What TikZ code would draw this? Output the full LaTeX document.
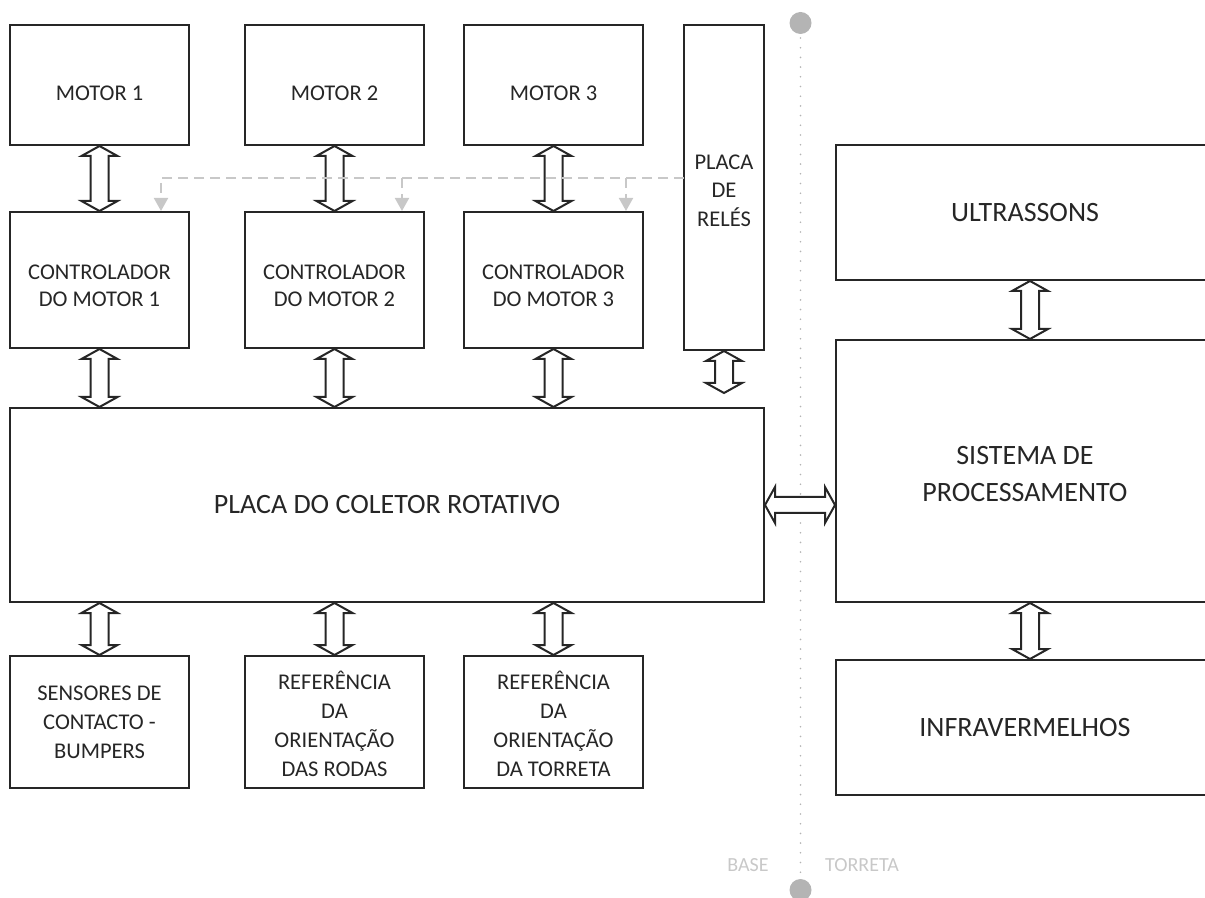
\documentclass[tikz,border=0pt]{standalone}
\usepackage{fontspec}
\setmainfont{Carlito}
\usetikzlibrary{calc,arrows.meta}
\definecolor{ink}{HTML}{262626}
\definecolor{lgray}{HTML}{C8C8C8}
\definecolor{dgray}{HTML}{B4B4B4}
\newcommand\vdarrow[2]{%
  \draw[dblarrow] (#1) -- ($(#1)+(18,10)$) -- ($(#1)+(9,10)$) -- ($(#2)+(9,-10)$) -- ($(#2)+(18,-10)$) -- (#2)
    -- ($(#2)+(-18,-10)$) -- ($(#2)+(-9,-10)$) -- ($(#1)+(-9,10)$) -- ($(#1)+(-18,10)$) -- cycle;}
\newcommand\hdarrow[2]{%
  \draw[dblarrow] (#1) -- ($(#1)+(10,-18)$) -- ($(#1)+(10,-8)$) -- ($(#2)+(-10,-8)$) -- ($(#2)+(-10,-18)$) -- (#2)
    -- ($(#2)+(-10,18)$) -- ($(#2)+(-10,8)$) -- ($(#1)+(10,8)$) -- ($(#1)+(10,18)$) -- cycle;}
\begin{document}
\begin{tikzpicture}[x=0.5pt,y=-0.5pt,
  box/.style={draw=ink, line width=1pt, inner sep=0pt, align=center, text=ink, font=\fontsize{11.25}{13.5}\selectfont},
  bigbox/.style={box, font=\fontsize{14}{18.5}\selectfont},
  lowbox/.style={box, font=\fontsize{11.25}{14.6}\selectfont},
  txt/.style={text=ink, font=\fontsize{11.25}{13.5}\selectfont, inner sep=0pt, align=center},
  bigtxt/.style={txt, font=\fontsize{14}{18.5}\selectfont},
  dblarrow/.style={draw=ink, line width=1pt, fill=white, line join=miter},
  ctrl/.style={draw=lgray, line width=1pt, dash pattern=on 5pt off 3pt, -{Triangle[width=7pt,length=6.5pt,fill=lgray]}},
  side/.style={text=lgray, font=\fontsize{10}{12}\selectfont, inner sep=0pt}]
\useasboundingbox (0,0) rectangle (1205,898);
\clip (0,0) rectangle (1205,898);
% separator
\draw[dgray, line width=0.9pt, line cap=round, dash pattern=on 0pt off 4.85pt] (800.5,38) -- (800.5,878);
\fill[dgray] (800.5,23) circle[radius=5.5pt];
\fill[dgray] (800.5,890) circle[radius=5.5pt];
\node[side] (base) at (748,865) {BASE};
\node[side] (torreta) at (862,865) {TORRETA};
% motors
\node[box, minimum width=89.5pt, minimum height=60pt, label={[txt,yshift=-4pt]center:MOTOR 1}] (m1) at (99.5,85) {};
\node[box, minimum width=89.5pt, minimum height=60pt, label={[txt,yshift=-4pt]center:MOTOR 2}] (m2) at (334.5,85) {};
\node[box, minimum width=89.5pt, minimum height=60pt, label={[txt,yshift=-4pt]center:MOTOR 3}] (m3) at (553.5,85) {};
% relay board
\node[box, minimum width=40pt, minimum height=162.5pt, label={[txt,yshift=-1.5pt,font=\fontsize{11.25}{14.3}\selectfont]center:PLACA\\DE\\RELÉS}] (r) at (724,187.5) {};
% controllers
\node[box, minimum width=89.5pt, minimum height=68pt, label={[txt,yshift=-3pt]center:CONTROLADOR\\DO MOTOR 1}] (c1) at (99.5,280) {};
\node[box, minimum width=89.5pt, minimum height=68pt, label={[txt,yshift=-3pt]center:CONTROLADOR\\DO MOTOR 2}] (c2) at (334.5,280) {};
\node[box, minimum width=89.5pt, minimum height=68pt, label={[txt,yshift=-3pt]center:CONTROLADOR\\DO MOTOR 3}] (c3) at (553.5,280) {};
% rotary collector board
\node[bigbox, minimum width=377pt, minimum height=97pt] (col) at (387,505) {PLACA DO COLETOR ROTATIVO};
% bottom boxes
\node[lowbox, minimum width=89.5pt, minimum height=66pt] (b1) at (99.5,722) {SENSORES DE\\CONTACTO -\\BUMPERS};
\node[lowbox, minimum width=89.5pt, minimum height=66pt, label={[txt,yshift=-1pt,font=\fontsize{11.25}{14.5}\selectfont]center:REFERÊNCIA\\DA\\ORIENTAÇÃO\\DAS RODAS}] (b2) at (334.5,722) {};
\node[lowbox, minimum width=89.5pt, minimum height=66pt, label={[txt,yshift=-1pt,font=\fontsize{11.25}{14.5}\selectfont]center:REFERÊNCIA\\DA\\ORIENTAÇÃO\\DA TORRETA}] (b3) at (553.5,722) {};
% turret side
\node[bigbox, minimum width=189pt, minimum height=67.5pt] (u) at (1025,212.5) {ULTRASSONS};
\node[bigbox, minimum width=189pt, minimum height=131pt, label={[bigtxt,yshift=-1.5pt]center:SISTEMA DE\\PROCESSAMENTO}] (s) at (1025,471) {};
\node[bigbox, minimum width=189pt, minimum height=67.5pt] (ir) at (1025,727.5) {INFRAVERMELHOS};
% double arrows
\vdarrow{m1.south}{c1.north}
\vdarrow{m2.south}{c2.north}
\vdarrow{m3.south}{c3.north}
\vdarrow{c1.south}{c1.south |- col.north}
\vdarrow{c2.south}{c2.south |- col.north}
\vdarrow{c3.south}{c3.south |- col.north}
\coordinate (rend) at (724,393);
\vdarrow{r.south}{rend}
\vdarrow{col.south -| b1.north}{b1.north}
\vdarrow{col.south -| b2.north}{b2.north}
\vdarrow{col.south -| b3.north}{b3.north}
\vdarrow{[xshift=2.5pt]u.south}{[xshift=2.5pt]u.south |- s.north}
\vdarrow{[xshift=2.5pt]s.south}{[xshift=2.5pt]s.south |- ir.north}
\hdarrow{col.east}{s.west |- col.east}
% relay control lines
\coordinate (rj) at (684,178);
\coordinate (j1) at (161,178);
\coordinate (j2) at (402,178);
\coordinate (j3) at (626,178);
\draw[ctrl] (rj) -- (j1) -- (j1 |- c1.north);
\draw[ctrl] (j2) -- (j2 |- c2.north);
\draw[ctrl] (j3) -- (j3 |- c3.north);
\end{tikzpicture}
\end{document}
